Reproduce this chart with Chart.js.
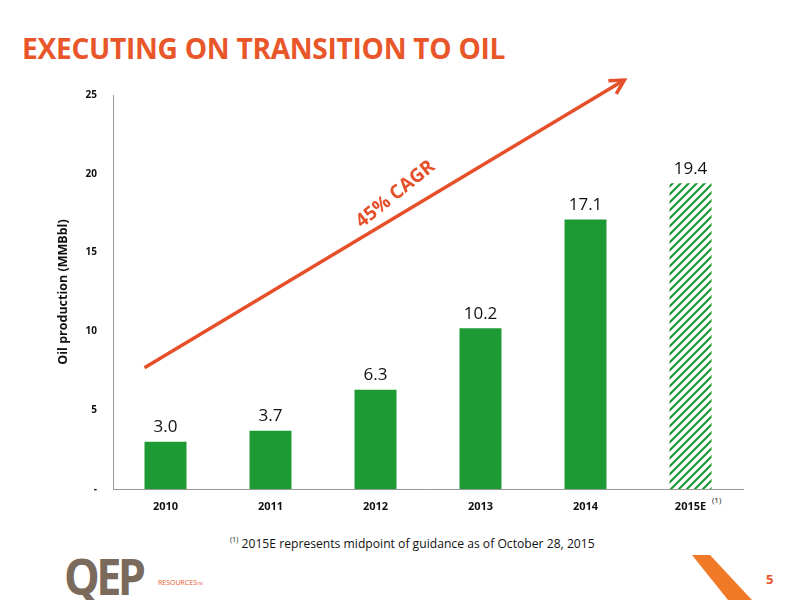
<!DOCTYPE html>
<html><head><meta charset="utf-8">
<script src="https://cdn.jsdelivr.net/npm/chart.js@4"></script>
<style>body{margin:0;background:#fff;}#wrap{position:absolute;left:0;top:0;width:800px;height:600px;}
.t{position:absolute;font-family:"Open Sans",sans-serif;}
</style></head><body>
<div class="t" style="left:22px;top:28px;font-size:29px;font-weight:bold;color:#E8562A;letter-spacing:-0.3px;transform:scaleX(0.97);transform-origin:left">EXECUTING ON TRANSITION TO OIL</div>
<div class="t" style="left:230px;top:533px;font-size:13.5px;color:#111;transform:scaleX(0.9);transform-origin:left"><sup style="font-size:8px">(1)</sup> 2015E represents midpoint of guidance as of October 28, 2015</div>
<div class="t" style="left:712px;top:494px;font-size:8px;color:#111">(1)</div>
<div class="t" style="left:64px;top:542px;font-size:50px;font-weight:bold;color:#7a6a5c;letter-spacing:-4px;transform:scaleX(0.9);transform-origin:left">QEP</div>
<div class="t" style="left:158px;top:578px;font-size:7px;color:#E8562A">RESOURCES<span style="font-size:4px">TM</span></div>
<div class="t" style="left:766px;top:570px;font-size:13px;font-weight:bold;color:#E8562A">5</div>
<svg style="position:absolute;left:690px;top:555px" width="70" height="45"><polygon points="2,0 20,0 62,45 38,45" fill="#F07A28"/></svg>
<div id="wrap"><canvas id="c" width="800" height="600"></canvas></div>
<script>
const categories=["2010","2011","2012","2013","2014","2015E"];
const values=[3.0,3.7,6.3,10.2,17.1,19.4];
const labels=["3.0","3.7","6.3","10.2","17.1","19.4"];
const yTicks=[0,5,10,15,20,25];
const green="#1E9A35";
function hatch(){const p=document.createElement('canvas');p.width=8;p.height=8;const g=p.getContext('2d');
g.strokeStyle=green;g.lineWidth=2.2;g.beginPath();g.moveTo(-2,10);g.lineTo(10,-2);g.moveTo(-2,2);g.lineTo(2,-2);g.moveTo(6,10);g.lineTo(10,6);g.stroke();
return g.createPattern(p,'repeat');}
const deco={id:'deco',afterDatasetsDraw(ch){const c=ch.ctx,x=ch.scales.x,y=ch.scales.y;
c.save();c.font='17px "Open Sans"';c.fillStyle='#111';c.textAlign='center';c.textBaseline='bottom';
ch.getDatasetMeta(0).data.forEach((b,i)=>c.fillText(labels[i],b.x,b.y-6));
const x0=x.getPixelForValue(-0.2),y0=y.getPixelForValue(7.7),x1=x.getPixelForValue(4.37),y1=y.getPixelForValue(25.95);
c.strokeStyle='#E5502A';c.lineWidth=3.5;c.beginPath();c.moveTo(x0,y0);c.lineTo(x1,y1);c.stroke();
const a=Math.atan2(y1-y0,x1-x0);c.beginPath();
c.moveTo(x1-16*Math.cos(a-0.5),y1-16*Math.sin(a-0.5));c.lineTo(x1,y1);c.lineTo(x1-16*Math.cos(a+0.5),y1-16*Math.sin(a+0.5));c.stroke();
c.translate(x.getPixelForValue(2.19),y.getPixelForValue(18.7));c.rotate(-0.68);c.font='bold 19px "Open Sans"';c.fillStyle='#E5502A';c.textBaseline='middle';c.fillText('45% CAGR',0,0);
c.restore();}};
new Chart(document.getElementById('c'),{type:'bar',
data:{labels:categories,datasets:[{data:values,backgroundColor:values.map((v,i)=>i===5?hatch():green),barPercentage:0.8,categoryPercentage:0.5}]},
options:{responsive:false,animation:false,layout:{padding:{left:56,right:57,top:95,bottom:71}},
plugins:{legend:{display:false},tooltip:{enabled:false}},
scales:{x:{afterFit:s=>{s.height=40},grid:{display:false,drawTicks:true},border:{color:'#999'},ticks:{color:'#111',font:{family:'Open Sans',size:11,weight:'bold'}}},
y:{min:0,max:25,afterFit:s=>{s.width=57},afterBuildTicks:s=>{s.ticks=yTicks.map(v=>({value:v}))},
title:{display:true,text:'Oil production (MMBbl)',color:'#111',padding:0,font:{family:'Open Sans',size:12.5,weight:'bold'}},
grid:{display:false},border:{color:'#999'},ticks:{color:'#111',padding:8,font:{family:'Open Sans',size:10,weight:'bold'},callback:v=>v===0?'-':v}}}},
plugins:[deco]});
</script></body></html>
